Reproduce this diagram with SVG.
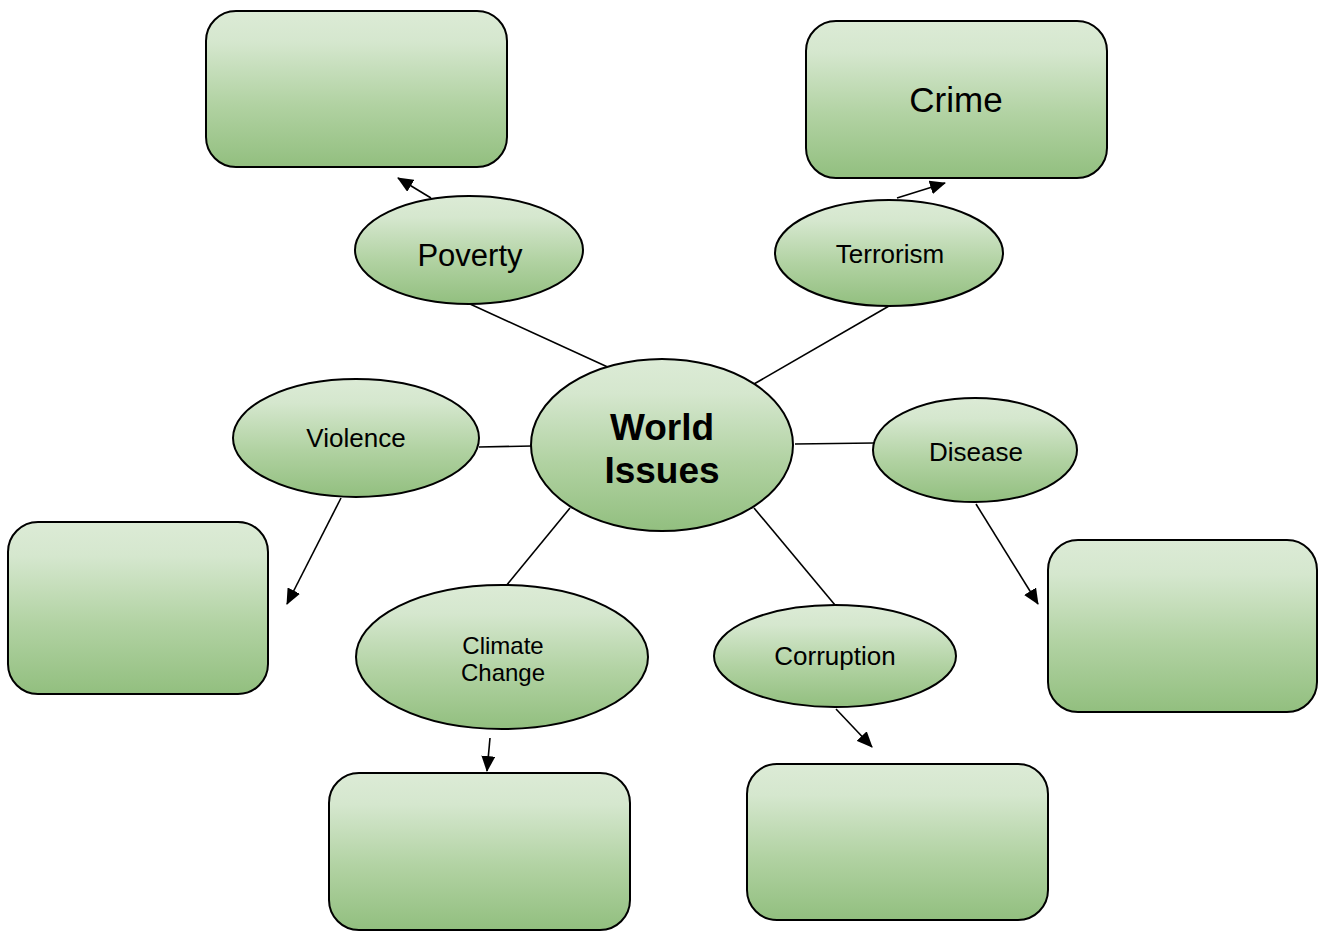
<svg xmlns="http://www.w3.org/2000/svg" width="1320" height="931" viewBox="0 0 1320 931">
<defs>
<linearGradient id="g" x1="0" y1="0" x2="0" y2="1">
<stop offset="0" stop-color="#dcebd6"/>
<stop offset="0.2" stop-color="#d5e7ce"/>
<stop offset="0.6" stop-color="#b1d2a2"/>
<stop offset="1" stop-color="#92bf7f"/>
</linearGradient>
<marker id="arr" markerUnits="userSpaceOnUse" markerWidth="16" markerHeight="14" refX="15" refY="7" orient="auto">
<path d="M0,0 L16,7 L0,14 Z" fill="#000"/>
</marker>
<style>
.box{fill:url(#g);stroke:#000;stroke-width:2}
.ell{fill:url(#g);stroke:#000;stroke-width:2}
.t{font-family:"Liberation Sans",Arial,sans-serif;fill:#000;text-anchor:middle}
.ln{stroke:#000;stroke-width:1.6;fill:none}
.ar{stroke:#000;stroke-width:1.6;fill:none;marker-end:url(#arr)}
</style>
</defs>
<g id="connectors">
<line class="ln" x1="470" y1="304" x2="612" y2="369"/>
<line class="ln" x1="889" y1="306" x2="754" y2="384"/>
<line class="ln" x1="479" y1="447" x2="532" y2="446"/>
<line class="ln" x1="795" y1="444" x2="874" y2="443"/>
<line class="ln" x1="570" y1="508" x2="506" y2="586"/>
<line class="ln" x1="754" y1="508" x2="835" y2="605"/>
<line class="ar" x1="431" y1="198" x2="398" y2="178"/>
<line class="ar" x1="897" y1="198" x2="945" y2="183"/>
<line class="ar" x1="341" y1="498" x2="287" y2="604"/>
<line class="ar" x1="976" y1="504" x2="1038" y2="604"/>
<line class="ar" x1="490" y1="738" x2="487" y2="771"/>
<line class="ar" x1="836" y1="709" x2="872" y2="747"/>
</g>
<g id="box-poverty"><rect class="box" x="206" y="11" width="301" height="156" rx="30"/></g>
<g id="box-crime"><rect class="box" x="806" y="21" width="301" height="157" rx="30"/><text class="t" x="956" y="112" font-size="35">Crime</text></g>
<g id="box-violence"><rect class="box" x="8" y="522" width="260" height="172" rx="30"/></g>
<g id="box-disease"><rect class="box" x="1048" y="540" width="269" height="172" rx="30"/></g>
<g id="box-climate"><rect class="box" x="329" y="773" width="301" height="157" rx="30"/></g>
<g id="box-corruption"><rect class="box" x="747" y="764" width="301" height="156" rx="30"/></g>
<g id="poverty"><ellipse class="ell" cx="469" cy="250" rx="114" ry="54"/><text class="t" x="470" y="266" font-size="31">Poverty</text></g>
<g id="terrorism"><ellipse class="ell" cx="889" cy="253" rx="114" ry="53"/><text class="t" x="890" y="263" font-size="26">Terrorism</text></g>
<g id="world-issues"><ellipse class="ell" cx="662" cy="445" rx="131" ry="86"/><text class="t" x="662" y="440" font-size="37" font-weight="bold">World</text><text class="t" x="662" y="483" font-size="37" font-weight="bold">Issues</text></g>
<g id="violence"><ellipse class="ell" cx="356" cy="438" rx="123" ry="59"/><text class="t" x="356" y="447" font-size="26">Violence</text></g>
<g id="disease"><ellipse class="ell" cx="975" cy="450" rx="102" ry="52"/><text class="t" x="976" y="461" font-size="26">Disease</text></g>
<g id="climate-change"><ellipse class="ell" cx="502" cy="657" rx="146" ry="72"/><text class="t" x="503" y="654" font-size="24">Climate</text><text class="t" x="503" y="681" font-size="24">Change</text></g>
<g id="corruption"><ellipse class="ell" cx="835" cy="656" rx="121" ry="51"/><text class="t" x="835" y="665" font-size="26">Corruption</text></g>
</svg>
